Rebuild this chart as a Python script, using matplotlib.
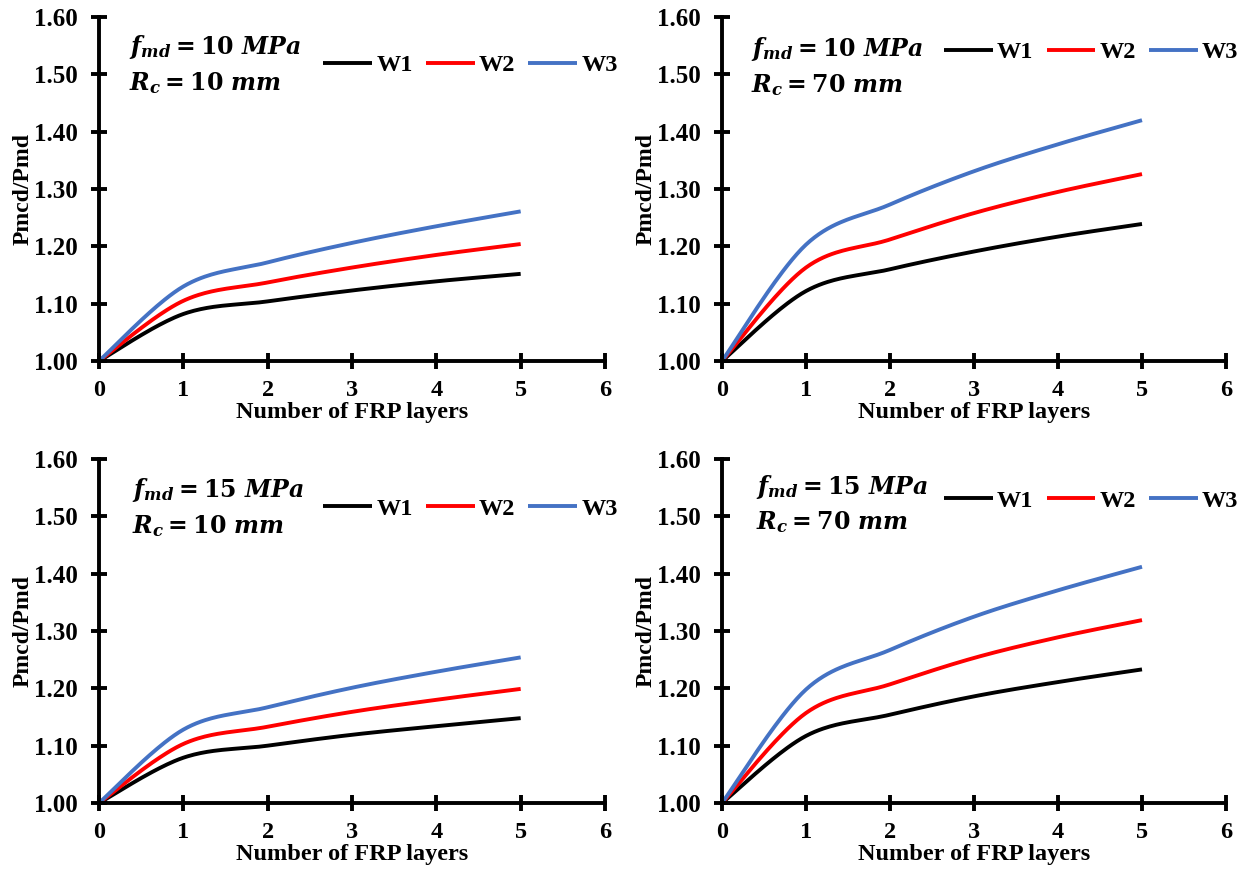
import numpy as np
import matplotlib
matplotlib.use("Agg")
import matplotlib.pyplot as plt

plt.rcParams['font.family'] = ['Liberation Serif', 'DejaVu Serif']
plt.rcParams['font.weight'] = 'bold'
plt.rcParams['mathtext.fontset'] = 'custom'
plt.rcParams['mathtext.rm'] = 'DejaVu Serif:bold'
plt.rcParams['mathtext.it'] = 'DejaVu Serif:italic:bold'
plt.rcParams['mathtext.bf'] = 'DejaVu Serif:bold'

# Number of FRP layers
layers = [0, 1, 2, 3, 4, 5]
series_names = ["W1", "W2", "W3"]
series_colors = ["#000000", "#FF0000", "#4472C4"]

# f_md = 10 MPa, R_c = 10 mm
a_w1 = [1.000, 1.082, 1.104, 1.123, 1.139, 1.152]
a_w2 = [1.000, 1.105, 1.137, 1.163, 1.185, 1.204]
a_w3 = [1.000, 1.130, 1.172, 1.206, 1.235, 1.261]
# f_md = 10 MPa, R_c = 70 mm
b_w1 = [1.000, 1.122, 1.160, 1.191, 1.217, 1.239]
b_w2 = [1.000, 1.163, 1.212, 1.258, 1.295, 1.326]
b_w3 = [1.000, 1.203, 1.273, 1.331, 1.378, 1.420]
# f_md = 15 MPa, R_c = 10 mm
c_w1 = [1.000, 1.079, 1.100, 1.119, 1.134, 1.148]
c_w2 = [1.000, 1.103, 1.133, 1.159, 1.180, 1.199]
c_w3 = [1.000, 1.128, 1.167, 1.201, 1.229, 1.254]
# f_md = 15 MPa, R_c = 70 mm
d_w1 = [1.000, 1.117, 1.154, 1.186, 1.211, 1.233]
d_w2 = [1.000, 1.157, 1.207, 1.253, 1.289, 1.319]
d_w3 = [1.000, 1.198, 1.267, 1.325, 1.371, 1.412]

panel_fmd = ["10", "10", "15", "15"]
panel_rc = ["10", "70", "10", "70"]
panel_data = [(a_w1, a_w2, a_w3), (b_w1, b_w2, b_w3),
              (c_w1, c_w2, c_w3), (d_w1, d_w2, d_w3)]

yticks = [1.00, 1.10, 1.20, 1.30, 1.40, 1.50, 1.60]
xticks = [0, 1, 2, 3, 4, 5, 6]


def smooth_curve(x, y, n=40):
    """Catmull-Rom style Bezier smoothing through the given points."""
    p = np.column_stack([x, y]).astype(float)
    ext = np.vstack([p[0], p, p[-1]])
    t = np.linspace(0, 1, n)[:, None]
    out = []
    for i in range(len(p) - 1):
        p0, p3 = ext[i + 1], ext[i + 2]
        c1 = p0 + (ext[i + 2] - ext[i]) / 6.0
        c2 = p3 - (ext[i + 3] - ext[i + 1]) / 6.0
        seg = ((1 - t) ** 3) * p0 + 3 * ((1 - t) ** 2) * t * c1 \
            + 3 * (1 - t) * t ** 2 * c2 + t ** 3 * p3
        out.append(seg if i == 0 else seg[1:])
    out = np.vstack(out)
    return out[:, 0], out[:, 1]


fig = plt.figure(figsize=(12.52, 8.73), dpi=100)

W, H = 1252, 873
boxes = [(99, 17, 605, 361), (722, 17, 1226, 361),
         (99, 459, 605, 803), (722, 459, 1226, 803)]
legend_y = [0.860, 0.898, 0.855, 0.878]
text_pos = [((129, 47), (129, 83)), ((751, 49), (751, 85)),
            ((132, 490), (132, 526)), ((756, 487), (756, 522))]

for k, (x0, y0, x1, y1) in enumerate(boxes):
    ax = fig.add_axes([x0 / W, 1 - y1 / H, (x1 - x0) / W, (y1 - y0) / H])
    for name, col, vals in zip(series_names, series_colors, panel_data[k]):
        sx, sy = smooth_curve(layers, vals)
        ax.plot(sx, sy, color=col, lw=2.8, label=name, solid_capstyle='butt')
    ax.set_xlim(0, 6)
    ax.set_ylim(1.0, 1.6)
    ax.set_xticks(xticks)
    ax.set_yticks(yticks)
    ax.set_yticklabels([f"{v:.2f}" for v in yticks])
    for s in ("top", "right"):
        ax.spines[s].set_visible(False)
    for s in ("left", "bottom"):
        ax.spines[s].set_linewidth(2.8)
    ax.tick_params(axis='both', direction='inout', length=11, width=2.8,
                   labelsize=18)
    ax.tick_params(axis='x', labelsize=17.5)
    ax.tick_params(axis='y', pad=10)
    ax.tick_params(axis='x', pad=8)
    for lab in ax.get_xticklabels() + ax.get_yticklabels():
        lab.set_fontweight('bold')
    ax.set_xlabel("Number of FRP layers", fontsize=17.5, fontweight='bold',
                  labelpad=1)
    ax.set_ylabel("Pmcd/Pmd", fontsize=17, fontweight='bold', labelpad=0)
    ax.legend(loc='center right', bbox_to_anchor=(1.044, legend_y[k]),
              ncol=3, frameon=False, fontsize=17.5, handlelength=2.0,
              handletextpad=0.17, columnspacing=0.55, borderaxespad=0)
    (fx, fy), (rx, ry) = text_pos[k]
    fig.text(fx / W, 1 - fy / H, r"$f_{md} = " + panel_fmd[k] + r"\ MPa$",
             fontsize=17, va='center', ha='left')
    fig.text(rx / W, 1 - ry / H, r"$R_c = " + panel_rc[k] + r"\ mm$",
             fontsize=17, va='center', ha='left')

fig.savefig("out.png", dpi=100)
